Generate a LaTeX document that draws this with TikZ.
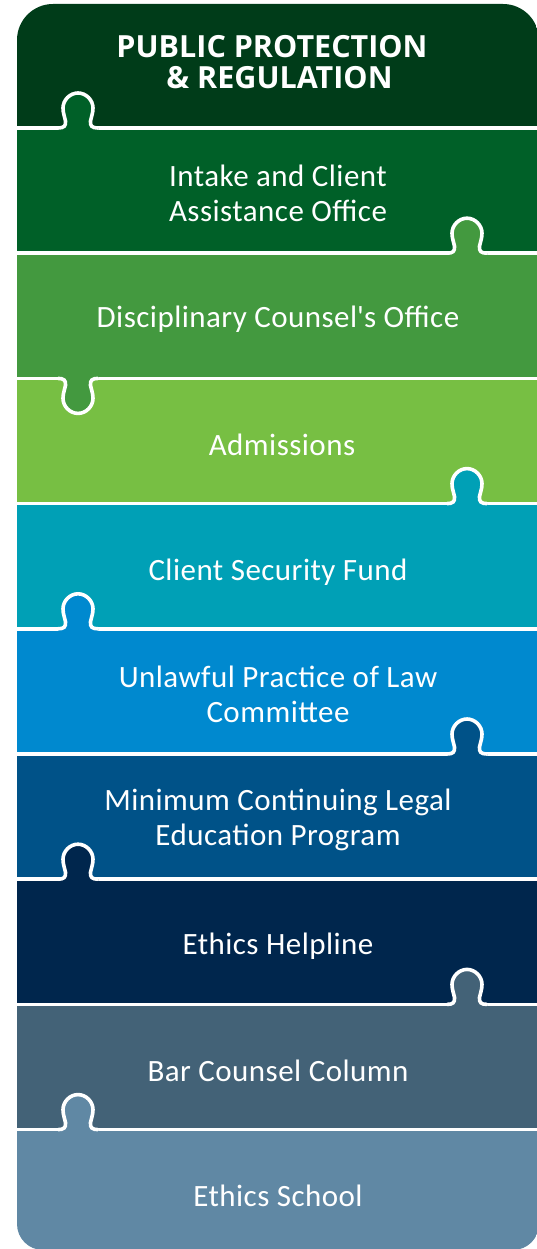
\documentclass[tikz,border=0pt]{standalone}
\usepackage{fontspec}
\setmainfont{Carlito}
\newfontfamily\bodyfont[LetterSpace=1.5]{Carlito}
\newfontfamily\headfont{Open Sans}
\definecolor{c0}{HTML}{003C19}
\definecolor{c1}{HTML}{006028}
\definecolor{c2}{HTML}{43993F}
\definecolor{c3}{HTML}{77BF43}
\definecolor{c4}{HTML}{00A0B6}
\definecolor{c5}{HTML}{0089CF}
\definecolor{c6}{HTML}{005288}
\definecolor{c7}{HTML}{00264D}
\definecolor{c8}{HTML}{436277}
\definecolor{c9}{HTML}{6088A4}
\tikzset{
  sepline/.style={white,line width=3.6pt},
  bandtext/.style={text=white,align=center,font=\bodyfont\fontsize{31}{35}\selectfont},
  headtext/.style={text=white,align=center,font=\headfont\bfseries\fontsize{30.5}{31}\selectfont},
  pics/tab/.style={code={
    \fill[#1] (-20,0) .. controls (-14,0) and (-12,-2) .. (-12.5,-7)
       .. controls (-13,-11) and (-15,-14) .. (-15,-20)
       .. controls (-15,-28) and (-8,-35) .. (0,-35)
       .. controls (8,-35) and (15,-28) .. (15,-20)
       .. controls (15,-14) and (13,-11) .. (12.5,-7)
       .. controls (12,-2) and (14,0) .. (20,0) -- (20,5) -- (-20,5) -- cycle;
    \draw[sepline] (-20,0) .. controls (-14,0) and (-12,-2) .. (-12.5,-7)
       .. controls (-13,-11) and (-15,-14) .. (-15,-20)
       .. controls (-15,-28) and (-8,-35) .. (0,-35)
       .. controls (8,-35) and (15,-28) .. (15,-20)
       .. controls (15,-14) and (13,-11) .. (12.5,-7)
       .. controls (12,-2) and (14,0) .. (20,0);
  }}
}
\begin{document}
\begin{tikzpicture}[x=1pt,y=-1pt]
\useasboundingbox (0,0) rectangle (537,1249);
\begin{scope}
\clip (17,600) [rounded corners=36pt] -- (17,4) -- (539,4) -- (539,600) [rounded corners=26pt] -- (539,1250) -- (17,1250) -- cycle;
\fill[c0] (0,0) rectangle (540,128);
\fill[c1] (0,128) rectangle (540,253.2);
\fill[c2] (0,253.2) rectangle (540,378.4);
\fill[c3] (0,378.4) rectangle (540,503.6);
\fill[c4] (0,503.6) rectangle (540,628.8);
\fill[c5] (0,628.8) rectangle (540,754);
\fill[c6] (0,754) rectangle (540,879.2);
\fill[c7] (0,879.2) rectangle (540,1004.4);
\fill[c8] (0,1004.4) rectangle (540,1129.6);
\fill[c9] (0,1129.6) rectangle (540,1260);
\foreach \yy in {128,253.2,378.4,503.6,628.8,754,879.2,1004.4,1129.6}
  \draw[sepline] (0,\yy) -- (540,\yy);
\pic at (78,128) {tab=c1};
\pic at (467,253.2) {tab=c2};
\pic[yscale=-1] at (78,378.4) {tab=c2};
\pic at (467,503.6) {tab=c4};
\pic at (78,628.8) {tab=c5};
\pic at (467,754) {tab=c6};
\pic at (78,879.2) {tab=c7};
\pic at (467,1004.4) {tab=c8};
\pic at (78,1129.6) {tab=c9};
\end{scope}
\node[headtext] (h) at (272,62) {PUBLIC PROTECTION\\\hspace*{15pt}\& REGULATION};
\node[bandtext] (b1) at (278,193.6) {Intake and Client\\Assistance Office};
\node[bandtext] (b2) at (278,319.5) {Disciplinary Counsel\textquotesingle s Office};
\node[bandtext] (b3) at (282,445) {Admissions};
\node[bandtext] (b4) at (278,572) {Client Security Fund};
\node[bandtext] (b5) at (278,694.4) {Unlawful Practice of Law\\Committee};
\node[bandtext] (b6) at (278,819.6) {Minimum Continuing Legal\\Education Program};
\node[bandtext] (b7) at (278,946) {Ethics Helpline};
\node[bandtext] (b8) at (278,1071) {Bar Counsel Column};
\node[bandtext] (b9) at (278,1196) {Ethics School};
\end{tikzpicture}
\end{document}
